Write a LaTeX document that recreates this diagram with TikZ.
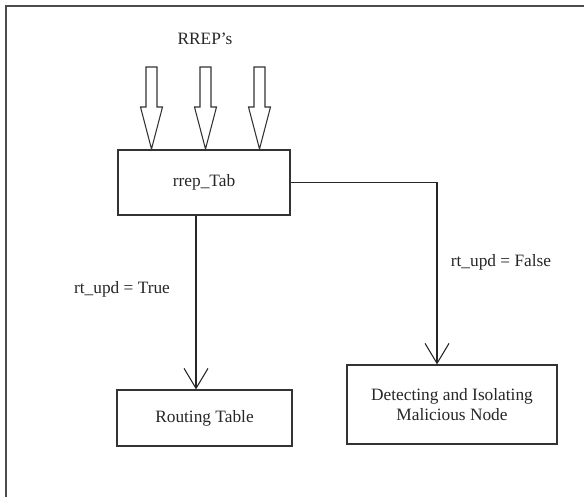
\documentclass[tikz,border=0pt]{standalone}
\usepackage{fontspec}
\defaultfontfeatures{}
\setmainfont{Liberation Serif}
\usetikzlibrary{arrows.meta}
\begin{document}
\begin{tikzpicture}[x=0.75pt,y=-0.75pt,
  every node/.style={font=\fontsize{13}{15.5}\selectfont, text=black!85},
  box/.style={draw=black!80, line width=0.9pt, rectangle, inner sep=0pt, align=center},
  arr/.style={draw=black!85, line width=0.9pt, -{Straight Barb[length=15pt,width=18pt,line width=0.8pt]}},
  blockarrow/.style={draw=black!80, line width=0.8pt, fill=white},
  frameline/.style={draw=black!70, line width=1.5pt}
]
\useasboundingbox (0,0) rectangle (584,497);
% frame along the top and left edges
\draw[frameline] (6,497) -- (6,6) -- (584,6);

% boxes
\node[box, minimum width=129pt, minimum height=48.75pt] (tab) at (204,182.5) {rrep\_Tab};
\node[box, minimum width=131.25pt, minimum height=42pt] (rt) at (204.5,418) {Routing Table};
\node[box, minimum width=157.5pt, minimum height=59.25pt] (det) at (452,404.5) {Detecting and Isolating\\Malicious Node};

% incoming replies
\node (rrep) at (205,39) {RREP's};
\foreach \cx in {151.5,205.5,259.5}{
  \draw[blockarrow] (\cx-5.5,67) -- (\cx+5.5,67) -- (\cx+5.5,107) -- (\cx+11,107)
    -- (\cx,149) -- (\cx-11,107) -- (\cx-5.5,107) -- cycle;
}

% decisions
\draw[arr] ([xshift=-6pt]tab.south) -- ([xshift=-6pt]tab.south |- rt.north);
\draw[arr] (tab.east) -| ([xshift=-11.25pt]det.north);

\node (lt) at (122,289) {rt\_upd = True};
\node (lf) at (501,262) {rt\_upd = False};
\end{tikzpicture}
\end{document}
